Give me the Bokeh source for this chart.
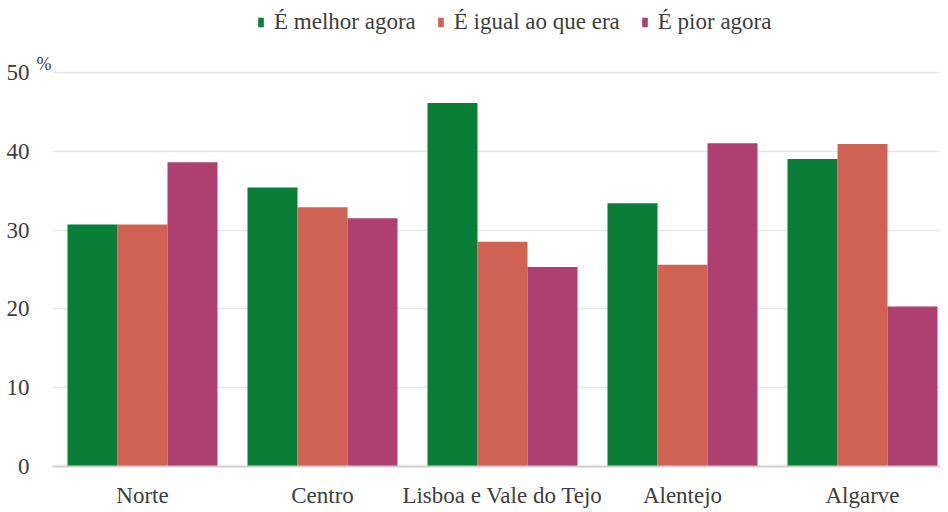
import numpy as np
from bokeh.plotting import figure
from bokeh.models import Range1d, FixedTicker, Legend, LegendItem, LinearAxis, ColumnDataSource
from bokeh.embed import file_html
from bokeh.resources import INLINE

regions = ["Norte", "Centro", "Lisboa e Vale do Tejo", "Alentejo", "Algarve"]
melhor = [30.7, 35.4, 46.1, 33.4, 39.0]
igual = [30.7, 32.9, 28.5, 25.6, 40.9]
pior = [38.6, 31.5, 25.3, 41.0, 20.3]
series_names = ["É melhor agora", "É igual ao que era", "É pior agora"]
colors = ["#0a7d37", "#d06253", "#ad3f71"]
y_ticks = [0, 10, 20, 30, 40, 50]
unit_label = "%"
unit_pos = 51.0

FONT = "Liberation Serif"
TXT = "#3d3d3d"

p = figure(width=940, height=510, output_backend="svg", toolbar_location=None,
           y_axis_location=None,
           min_border_left=52, min_border_right=0, min_border_top=0, min_border_bottom=43)
p.x_range = Range1d(0, 888 / 180)
p.y_range = Range1d(0, 50 + 72 / 7.9)
p.outline_line_color = None
p.background_fill_color = "white"

centers = np.arange(len(regions)) + 0.5
bw = 50 / 180
offsets = [-bw, 0, bw]
renderers = []
for vals, off, col in zip([melhor, igual, pior], offsets, colors):
    src = ColumnDataSource(dict(x=centers + off, top=vals))
    r = p.vbar(x="x", top="top", bottom=0, width=bw, source=src,
               fill_color=col, line_color=None)
    renderers.append(r)

# x axis
p.xaxis.ticker = FixedTicker(ticks=list(centers))
p.xaxis.major_label_overrides = {float(c): n for c, n in zip(centers, regions)}
p.xaxis.axis_line_color = "#cfcfcf"
p.xaxis.axis_line_width = 2
p.xaxis.major_tick_line_color = None
p.xaxis.minor_tick_line_color = None
p.xaxis.major_label_standoff = 10
p.xaxis.major_label_text_font = FONT
p.xaxis.major_label_text_font_size = "23px"
p.xaxis.major_label_text_color = TXT

# unit axis (closest to the frame) carrying the "%" sign
pct_axis = LinearAxis(ticker=FixedTicker(ticks=[unit_pos]),
                      major_label_overrides={unit_pos: unit_label},
                      axis_line_color=None, major_tick_line_color=None,
                      minor_tick_line_color=None, major_tick_out=0, major_tick_in=0,
                      minor_tick_out=0, minor_tick_in=0, major_label_standoff=1,
                      major_label_text_font=FONT, major_label_text_font_size="18px",
                      major_label_text_color=TXT)
p.add_layout(pct_axis, "left")

# main y axis
y_axis = LinearAxis(ticker=FixedTicker(ticks=y_ticks),
                    axis_line_color=None, major_tick_line_color=None,
                    minor_tick_line_color=None, major_tick_out=0, major_tick_in=0,
                    minor_tick_out=0, minor_tick_in=0, major_label_standoff=4,
                    major_label_text_font=FONT, major_label_text_font_size="23px",
                    major_label_text_color=TXT)
p.add_layout(y_axis, "left")

p.xgrid.grid_line_color = None
p.ygrid.ticker = FixedTicker(ticks=y_ticks[1:])
p.ygrid.grid_line_color = "#e6e6e6"
p.ygrid.grid_line_width = 1.5

legend = Legend(items=[LegendItem(label=n, renderers=[r]) for n, r in zip(series_names, renderers)],
                orientation="horizontal", location=(205, 431),
                glyph_width=7, glyph_height=12, label_standoff=10, spacing=21,
                padding=0, margin=0, border_line_color=None, background_fill_alpha=0,
                label_text_font=FONT, label_text_font_size="23px", label_text_color=TXT)
p.add_layout(legend, "center")

open("out.html", "w").write(file_html(p, INLINE))
